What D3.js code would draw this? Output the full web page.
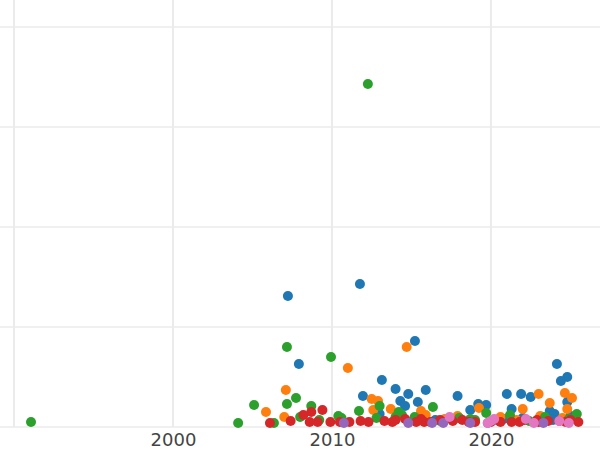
<!DOCTYPE html>
<html><head><meta charset="utf-8">
<script src="https://cdn.jsdelivr.net/npm/d3@7"></script>
<style>body{margin:0;background:#fff}</style>
</head><body><div id="chart"></div>
<script>
const xTicks = [1990, 2000, 2010, 2020];
const yTicks = [0, 1, 2, 3, 4];
const colors = ["#1f77b4", "#ff7f0e", "#2ca02c", "#d62728", "#9467bd", "#e377c2"];

const blue = [[2007.23,1.30],[2011.76,1.42],[2007.92,.62],[2015.22,.85],[2013.14,.46],[2014.0,.37],[2015.9,.36],[2011.95,.30],[2017.9,.30],[2014.8,.32],[2014.3,.25],[2024.15,.62],[2024.8,.49],[2024.4,.45],[2021.9,.32],[2021.0,.32],[2022.5,.29],[2024.8,.24],[2019.2,.22],[2019.7,.21],[2015.4,.24],[2018.7,.16],[2021.3,.17],[2023.7,.15],[2018,.08],[2020.5,.05],[2022,.08],[2023.5,.08],[2025,.1],[2013,.12],[2016.5,.06],[2014.6,.2],[2020.8,.07],[2024.0,.12],[2023.9,.06]];
const orange = [[2014.7,.79],[2011.0,.58],[2007.1,.36],[2012.5,.27],[2012.9,.25],[2005.85,.14],[2007.0,.09],[2023.0,.32],[2023.7,.23],[2024.65,.33],[2025.1,.28],[2024.8,.17],[2022.0,.17],[2019.25,.18],[2015.6,.15],[2015.9,.11],[2017.9,.10],[2013.7,.17],[2020.6,.09],[2023.1,.10],[2017.1,.07],[2012.6,.16],[2016.0,.05],[2021.6,.06],[2024.5,.08]];
const green = [[2012.26,3.42],[2007.17,.79],[2009.94,.69],[2007.74,.28],[2005.1,.21],[2007.17,.22],[2008.7,.20],[2011.7,.15],[2013.0,.20],[2016.35,.19],[2014.2,.14],[1991.07,.04],[2004.1,.03],[2006.35,.03],[2008.0,.09],[2010.4,.10],[2010.6,.08],[2015.2,.09],[2018.0,.08],[2019.7,.13],[2021.2,.11],[2023.4,.09],[2025.4,.12],[2018.7,.07],[2014,.09],[2009.2,.06],[2012.8,.08],[2014.4,.11],[2016.8,.05],[2019.0,.06],[2022.4,.05],[2024.9,.07]];
const red = [[2009.4,.16],[2008.2,.11],[2008.7,.14],[2007.4,.05],[2006.1,.03],[2008.6,.04],[2009.1,.04],[2009.9,.04],[2011.1,.04],[2011.8,.05],[2013.3,.05],[2014,.06],[2014.6,.07],[2015.3,.04],[2015.8,.04],[2016.8,.06],[2017.6,.05],[2018.2,.06],[2019,.04],[2020,.04],[2020.6,.04],[2021.3,.04],[2022.1,.06],[2023,.04],[2023.6,.05],[2024.3,.05],[2025,.06],[2025.5,.04],[2015.6,.07],[2010.5,.04],[2012.3,.04],[2013.8,.04],[2017.0,.04],[2018.6,.04],[2021.8,.04],[2022.9,.06],[2024.7,.04],[2016.2,.04]];
const purple = [[2010.75,.03],[2014.8,.03],[2016.3,.03],[2018.7,.03],[2019.8,.03],[2023.3,.03],[2017.0,.03]];
const pink = [[2017.4,.09],[2020,.05],[2020.2,.07],[2022.2,.07],[2022.7,.03],[2024.3,.05],[2024.9,.03],[2019.8,.03]];
const series = [blue, orange, green, red, purple, pink];

const width = 600, height = 450;
const svg = d3.select("#chart").append("svg")
    .attr("width", width).attr("height", height);

const x = d3.scaleLinear().domain([1989.12, 2026.86]).range([0, width]);
const y = d3.scaleLinear().domain([0, 4]).range([427, 27]);

// grid
svg.append("g").selectAll("line").data(xTicks).enter().append("line")
    .attr("x1", d => x(d)).attr("x2", d => x(d))
    .attr("y1", 0).attr("y2", 427)
    .attr("stroke", "#ebebeb").attr("stroke-width", 2);
svg.append("g").selectAll("line").data(yTicks).enter().append("line")
    .attr("x1", 0).attr("x2", width)
    .attr("y1", d => y(d)).attr("y2", d => y(d))
    .attr("stroke", "#ebebeb").attr("stroke-width", 1.5);

// x axis labels
svg.append("g")
    .attr("transform", "translate(0,427)")
    .call(d3.axisBottom(x).tickValues(xTicks.slice(1)).tickFormat(d3.format("d")).tickSize(0).tickPadding(6))
    .call(g => g.select(".domain").remove())
    .call(g => g.selectAll("text").attr("fill", "#444").style("font", "18px 'DejaVu Sans'"));

// points
series.forEach((s, i) => {
    svg.append("g").selectAll("circle").data(s).enter().append("circle")
        .attr("cx", d => x(d[0]))
        .attr("cy", d => y(d[1]) - 1)
        .attr("r", 5)
        .attr("fill", colors[i]);
});
</script>
</body></html>
